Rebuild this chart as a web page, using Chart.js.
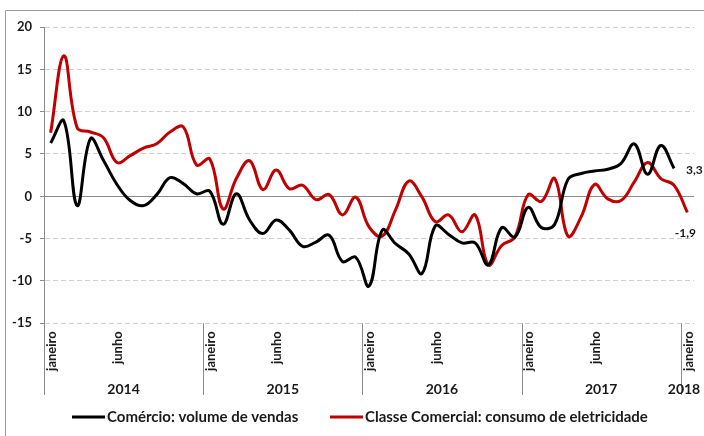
<!DOCTYPE html>
<html>
<head>
<meta charset="utf-8">
<script src="https://cdn.jsdelivr.net/npm/chart.js@4.4.0/dist/chart.umd.min.js"></script>
<style>
  html, body { margin: 0; padding: 0; background: #fff; }
  #wrap { width: 704px; height: 436px; position: relative; }
</style>
</head>
<body>
<div id="wrap"><canvas id="chart"></canvas></div>
<script>
// meses de jan/2014 a jan/2018
const years = ["2014", "2015", "2016", "2017", "2018"];
const monthNames = ["janeiro", "fevereiro", "março", "abril", "maio", "junho",
  "julho", "agosto", "setembro", "outubro", "novembro", "dezembro"];
const shownMonths = ["janeiro", "junho"];

const categories = [];
years.forEach(y => monthNames.forEach(m => categories.push(m + " " + y)));
categories.length = 49;

// variação (%)
const comercio = [
  6.3, 8.9, -1.1, 6.8, 4.2, 1.4, -0.5, -1.1, 0.2, 2.2, 1.5, 0.3,
  0.6, -3.3, 0.3, -2.8, -4.4, -2.8, -4.0, -5.9, -5.4, -4.6, -7.7, -7.2,
  -10.6, -4.0, -5.6, -6.8, -9.1, -3.5, -4.5, -5.5, -5.5, -8.1, -3.7, -4.8,
  -1.3, -3.7, -3.3, 2.0, 2.7, 3.0, 3.2, 3.9, 6.2, 2.6, 6.0, 3.3, null
];
const eletricidade = [
  7.5, 16.6, 8.1, 7.6, 6.9, 4.0, 4.8, 5.7, 6.2, 7.6, 8.2, 3.7,
  4.4, -1.5, 2.1, 4.2, 0.8, 3.1, 0.9, 1.3, -0.4, 0.2, -2.2, -0.1,
  -3.6, -4.7, -1.6, 1.8, -0.1, -3.0, -2.2, -4.2, -2.2, -8.1, -5.8, -4.8,
  0.2, -0.6, 2.1, -4.7, -2.4, 1.4, -0.3, -0.5, 1.7, 4.0, 2.1, 1.3, -1.9
];
const seriesNames = ["Comércio: volume de vendas", "Classe Comercial: consumo de eletricidade"];
const seriesColors = ["#000000", "#c00000"];

const FONT = "Lato, 'DejaVu Sans', sans-serif";

function lastIndex(arr) {
  for (let i = arr.length - 1; i >= 0; i--) if (arr[i] !== null) return i;
  return -1;
}

const extras = {
  id: "extras",
  beforeDatasetsDraw(chart) {
    const { ctx, chartArea: a, scales: { y } } = chart;
    ctx.save();
    // linha do zero
    const y0 = Math.round(y.getPixelForValue(0)) + 0.5;
    ctx.strokeStyle = "#8c8c8c";
    ctx.lineWidth = 1;
    ctx.beginPath();
    ctx.moveTo(a.left, y0);
    ctx.lineTo(a.right, y0);
    ctx.stroke();
    ctx.restore();
  },
  afterDraw(chart) {
    const { ctx, chartArea: a, scales: { x } } = chart;
    const step = x.getPixelForValue(1) - x.getPixelForValue(0);
    ctx.save();

    // moldura
    ctx.strokeStyle = "#9a9a9a";
    ctx.lineWidth = 1;
    ctx.beginPath();
    ctx.moveTo(5.5, 436);
    ctx.lineTo(5.5, 10.5);
    ctx.lineTo(704, 10.5);
    ctx.stroke();

    // separadores de ano
    ctx.strokeStyle = "#8c8c8c";
    for (let i = 0; i < categories.length; i += 12) {
      const sx = Math.round(x.getPixelForValue(i) - step / 2) + 0.5;
      ctx.beginPath();
      ctx.moveTo(sx, a.bottom);
      ctx.lineTo(sx, 395);
      ctx.stroke();
    }

    // rótulos de mês (janeiro, junho)
    ctx.fillStyle = "#1a1a1a";
    ctx.font = "bold 13px " + FONT;
    ctx.textAlign = "right";
    ctx.textBaseline = "middle";
    categories.forEach((c, i) => {
      const m = monthNames[i % 12];
      if (!shownMonths.includes(m)) return;
      ctx.save();
      ctx.translate(x.getPixelForValue(i) + 1, a.bottom + 8);
      ctx.rotate(-Math.PI / 2);
      ctx.fillText(m, 0, 0);
      ctx.restore();
    });

    // anos
    ctx.font = "bold 14px " + FONT;
    ctx.textAlign = "center";
    years.forEach((yr, k) => {
      const i0 = k * 12;
      const i1 = Math.min(i0 + 11, categories.length - 1);
      const cx = (x.getPixelForValue(i0) + x.getPixelForValue(i1)) / 2;
      ctx.fillText(yr, Math.min(cx, 684), 389);
    });

    // rótulos dos últimos valores
    const fmt = v => v.toFixed(1).replace(".", ",");
    ctx.font = "bold 12px " + FONT;
    const ib = lastIndex(comercio);
    const pb = chart.getDatasetMeta(0).data[ib];
    ctx.textAlign = "left";
    ctx.fillText(fmt(comercio[ib]), pb.x + 12, pb.y + 2);
    const ir = lastIndex(eletricidade);
    const pr = chart.getDatasetMeta(1).data[ir];
    ctx.textAlign = "center";
    ctx.fillText(fmt(eletricidade[ir]), pr.x - 2, pr.y + 21);

    // legenda
    ctx.font = "bold 15px " + FONT;
    ctx.textAlign = "left";
    const legendX = [72, 330];
    seriesNames.forEach((name, k) => {
      ctx.strokeStyle = seriesColors[k];
      ctx.lineWidth = 3;
      ctx.beginPath();
      ctx.moveTo(legendX[k], 417);
      ctx.lineTo(legendX[k] + 33, 417);
      ctx.stroke();
      ctx.fillStyle = "#1a1a1a";
      ctx.fillText(name, legendX[k] + 35, 417);
    });

    ctx.restore();
  }
};

const data = {
  labels: categories,
  datasets: [
    {
      label: seriesNames[0],
      data: comercio,
      borderColor: seriesColors[0],
      borderWidth: 3,
      pointRadius: 0,
      tension: 0.4,
      fill: false
    },
    {
      label: seriesNames[1],
      data: eletricidade,
      borderColor: seriesColors[1],
      borderWidth: 3,
      pointRadius: 0,
      tension: 0.4,
      fill: false
    }
  ]
};

const config = {
  type: "line",
  data: data,
  options: {
    responsive: false,
    animation: false,
    layout: { padding: { top: 27, right: 10, left: 0, bottom: 0 } },
    plugins: { legend: { display: false }, tooltip: { enabled: false } },
    scales: {
      x: {
        offset: true,
        ticks: { display: false },
        grid: { display: false },
        border: { display: false },
        afterFit: s => { s.height = 436 - 323.3; }
      },
      y: {
        min: -15,
        max: 20,
        ticks: {
          stepSize: 5,
          color: "#1a1a1a",
          padding: 8,
          font: { family: FONT, weight: "bold", size: 13 }
        },
        grid: { color: "#cfcfcf", tickColor: "#8c8c8c", tickLength: 4 },
        border: { display: true, color: "#8c8c8c", dash: [5, 3] },
        afterFit: s => { s.width = 44; }
      }
    }
  },
  plugins: [extras]
};

const canvas = document.getElementById("chart");
canvas.width = 704;
canvas.height = 436;
if (canvas) {
  new Chart(canvas.getContext("2d"), config);
} else {
  console.error("Canvas não encontrado.");
}
</script>
</body>
</html>
